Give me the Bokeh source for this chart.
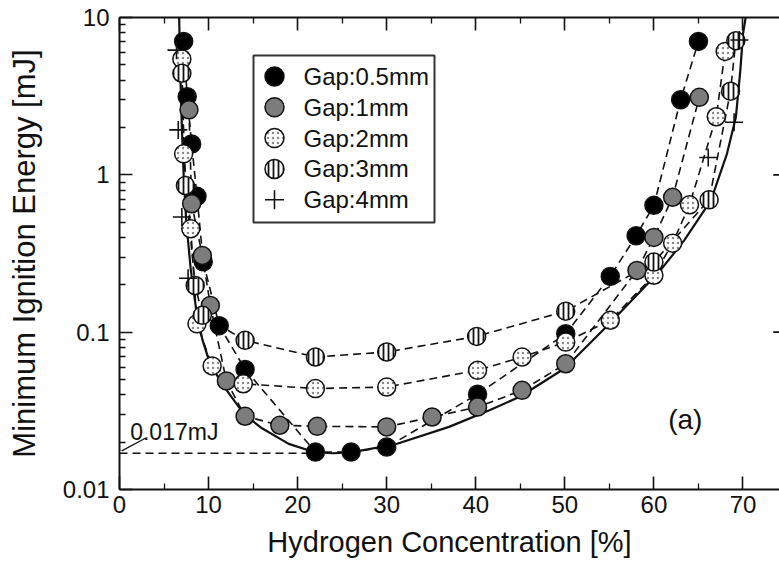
from bokeh.plotting import figure
from bokeh.models import (Range1d, LinearScale, LinearAxis, FixedTicker, CustomJSTickFormatter,
                          Label)
from bokeh.core.properties import value
from bokeh.embed import file_html
from bokeh.resources import INLINE

FONT = "Liberation Sans"
INK = "#111111"

# Minimum ignition energy [mJ] versus hydrogen concentration [%], per electrode gap
gap05_conc = [7.2, 7.6, 8.1, 8.7, 9.4, 11.2, 14.1, 22.0, 26.0, 30.0, 40.2, 50.1, 55.1, 58.0, 60.0, 63.0, 65.0]
gap05_mie = [7.05, 3.14, 1.57, 0.73, 0.28, 0.11, 0.058, 0.0173, 0.0173, 0.0186, 0.0403, 0.0977, 0.226, 0.41, 0.64, 3.0, 7.05]

gap1_conc = [7.8, 8.1, 9.3, 10.2, 12.0, 14.1, 18.0, 22.2, 30.0, 35.1, 40.2, 45.2, 50.1, 58.1, 60.0, 62.1, 65.1]
gap1_mie = [2.59, 0.655, 0.307, 0.148, 0.049, 0.0292, 0.0256, 0.0252, 0.025, 0.0289, 0.0334, 0.0427, 0.063, 0.247, 0.40, 0.72, 3.11]

gap2_conc = [7.0, 7.2, 8.0, 8.7, 10.4, 13.9, 22.0, 30.0, 40.2, 45.2, 50.1, 55.1, 60.0, 62.1, 64.0, 67.0, 68.0]
gap2_mie = [5.45, 1.36, 0.454, 0.113, 0.061, 0.047, 0.0438, 0.0448, 0.0572, 0.0695, 0.0865, 0.119, 0.23, 0.368, 0.645, 2.34, 6.09]

gap3_conc = [7.0, 7.4, 8.5, 9.3, 14.1, 22.0, 30.0, 40.1, 50.1, 60.0, 66.2, 68.6, 69.2]
gap3_mie = [4.42, 0.855, 0.198, 0.128, 0.0887, 0.0695, 0.0748, 0.094, 0.136, 0.279, 0.694, 3.4, 7.12]

gap4_conc = [6.4, 6.6, 7.0, 7.7, 66.1, 69.0, 69.6]
gap4_mie = [6.2, 1.93, 0.54, 0.22, 1.29, 2.16, 7.2]

# lower envelope (solid curve)
envelope_conc = [6.7, 6.8, 7.0, 7.2, 7.5, 8.0, 8.6, 9.3, 10.2, 12.0, 14.0, 16.0, 19.0, 22.0, 24.0, 26.0,
                 31.0, 37.0, 41.6, 45.0, 50.0, 55.0, 60.7, 63.4, 66.4, 68.2, 69.2, 69.7, 70.0, 70.3]
envelope_mie = [10, 5, 2, 1, 0.5, 0.25, 0.14, 0.09, 0.062, 0.043, 0.030, 0.0245, 0.0195, 0.0172, 0.0170, 0.0172,
                0.0194, 0.025, 0.032, 0.039, 0.059, 0.113, 0.246, 0.383, 0.687, 1.36, 2.32, 4.6, 7.86, 10]

# overall minimum marked on the chart
min_mie = 0.017
min_conc = 21.0

series_labels = ["Gap:0.5mm", "Gap:1mm", "Gap:2mm", "Gap:3mm", "Gap:4mm"]

x_major = [0, 10, 20, 30, 40, 50, 60, 70]
x_minor = [5, 15, 25, 35, 45, 55, 65, 75]
y_major = [0.01, 0.1, 1, 10]
y_minor = [m * d for d in (0.01, 0.1, 1) for m in range(2, 10)]

W, H = 779, 573
LEFT, TOP, BOTTOM = 119, 17, 84
FW, FH = W - LEFT, H - TOP - BOTTOM

p = figure(width=W, height=H,
           x_range=Range1d(0, 74.1), y_range=Range1d(0.01, 10),
           y_axis_type="log", output_backend="svg", toolbar_location=None,
           min_border_left=LEFT, min_border_right=0, min_border_top=TOP, min_border_bottom=BOTTOM)
p.outline_line_color = None
p.grid.visible = False

# pixel-space ranges for the key box inside the frame
p.extra_x_ranges = {"px": Range1d(0, FW)}
p.extra_y_ranges = {"px": Range1d(0, FH)}
p.extra_x_scales = {"px": LinearScale()}
p.extra_y_scales = {"px": LinearScale()}


def style_axis(ax):
    ax.axis_line_width = 2
    ax.axis_line_color = INK
    ax.major_tick_line_width = 1.6
    ax.minor_tick_line_width = 1.3
    ax.major_tick_line_color = INK
    ax.minor_tick_line_color = INK
    ax.major_tick_in = 13
    ax.major_tick_out = 0
    ax.minor_tick_in = 6
    ax.minor_tick_out = 0
    ax.major_label_text_font = FONT
    ax.major_label_text_font_size = "24px"
    ax.major_label_text_color = INK
    ax.axis_label_text_font = FONT
    ax.axis_label_text_font_style = "normal"
    ax.axis_label_text_color = INK


xa = p.xaxis[0]
style_axis(xa)
xa.ticker = FixedTicker(ticks=x_major, minor_ticks=x_minor)
xa.axis_label = "Hydrogen Concentration [%]"
xa.axis_label_text_font_size = "29px"
xa.major_label_standoff = 6
xa.axis_label_standoff = 10

ya = p.yaxis[0]
style_axis(ya)
ya.ticker = FixedTicker(ticks=y_major, minor_ticks=y_minor)
ya.formatter = CustomJSTickFormatter(code="return parseFloat(tick.toPrecision(3)).toString();")
ya.axis_label = "Minimum Ignition Energy [mJ]"
ya.axis_label_text_font_size = "31px"
ya.major_label_standoff = 10
ya.axis_label_standoff = 18

top = LinearAxis(ticker=FixedTicker(ticks=x_major, minor_ticks=x_minor),
                 formatter=CustomJSTickFormatter(code="return '';"))
style_axis(top)
top.major_label_text_font_size = "1px"
top.major_label_standoff = 0
p.add_layout(top, "above")

# right-hand frame ticks (frame edge sits just past the visible area)
p.segment(x0=[73.4] * 2, y0=[0.1, 1], x1=[75] * 2, y1=[0.1, 1], line_color=INK, line_width=1.6)

# fitted curves
dash = "8 5"
for cx, cy in ((gap05_conc, gap05_mie), (gap1_conc, gap1_mie), (gap2_conc, gap2_mie), (gap3_conc, gap3_mie)):
    p.line(cx, cy, line_color=INK, line_width=1.6, line_dash=dash)
p.line(envelope_conc, envelope_mie, line_color=INK, line_width=2.2)

# minimum energy marker line and note
p.line([0, min_conc], [min_mie, min_mie], line_color=INK, line_width=1.6, line_dash=dash)
p.line([0.25, 2.9], [0.0176, 0.0212], line_color=INK, line_width=1.2)
p.add_layout(Label(x=1.2, y=0.0231, text=f"{min_mie}mJ", text_font=FONT, text_font_size="23px",
                   text_color=INK, text_baseline="alphabetic"))
p.add_layout(Label(x=61.6, y=0.0279, text="(a)", text_font=FONT, text_font_size="28px",
                   text_color=INK, text_baseline="alphabetic"))

SIZE = 18
styles = [
    dict(marker="circle", fill_color="black", line_color=INK, line_width=1.5),
    dict(marker="circle", fill_color="#7c7c7c", line_color=INK, line_width=1.5),
    dict(marker="circle", fill_color="white", hatch_pattern="dot", hatch_scale=5, hatch_weight=1.2,
         hatch_color="#8a8a8a", line_color=INK, line_width=1.5),
    dict(marker="circle", fill_color="white", hatch_pattern="vertical_line", hatch_scale=5,
         hatch_weight=1.8, hatch_color=INK, line_color=INK, line_width=1.5),
    dict(marker="cross", line_color=INK, line_width=1.6),
]
series = [(gap05_conc, gap05_mie), (gap1_conc, gap1_mie), (gap2_conc, gap2_mie),
          (gap3_conc, gap3_mie), (gap4_conc, gap4_mie)]
for (cx, cy), st in zip(series, styles):
    p.scatter(cx, cy, size=SIZE, **st)

# key box (pixel offsets from the frame's bottom-left corner)
key_left, key_right, key_top, key_bottom = 134, 315, FH - 38, FH - 205
row_pitch = 30.8
row0 = key_top - 21
p.quad(left=[key_left], right=[key_right], top=[key_top], bottom=[key_bottom],
       fill_color="white", line_color="#333333", line_width=2,
       x_range_name="px", y_range_name="px")
for i, (lab, st) in enumerate(zip(series_labels, styles)):
    ry = row0 - i * row_pitch
    p.scatter([key_left + 21], [ry], size=19, x_range_name="px", y_range_name="px", **st)
    p.text([key_left + 50], [ry], text=[lab], text_font=value(FONT), text_font_size="24px",
           text_color=INK, text_baseline="middle", x_range_name="px", y_range_name="px")

open("out.html", "w").write(file_html(p, INLINE))
